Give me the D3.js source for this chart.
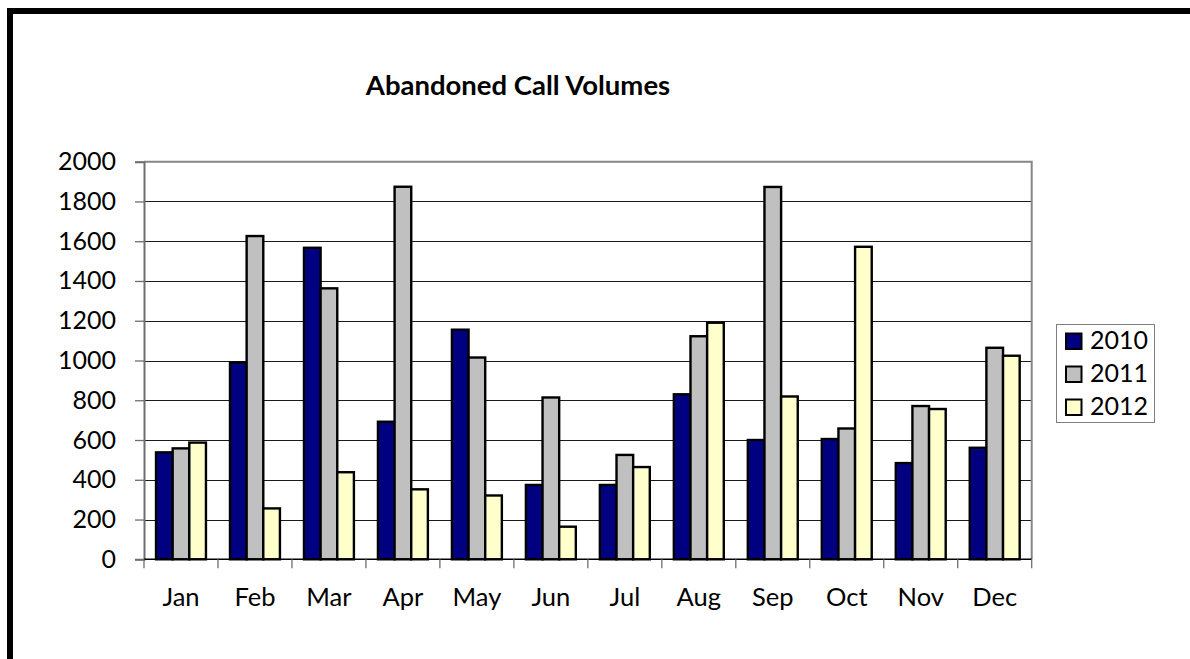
<!DOCTYPE html>
<html>
<head>
<meta charset="utf-8">
<script src="https://cdn.jsdelivr.net/npm/d3@7"></script>
<style>
  html, body { margin: 0; padding: 0; background: #fff; }
  svg { display: block; }
  text { font-family: Lato, "Open Sans", sans-serif; fill: #000; }
</style>
</head>
<body>
<svg id="chart" width="1190" height="659"></svg>
<script>
// Monthly abandoned call counts per year
const months = ["Jan", "Feb", "Mar", "Apr", "May", "Jun", "Jul", "Aug", "Sep", "Oct", "Nov", "Dec"];
const years = ["2010", "2011", "2012"];
const calls2010 = [538, 990, 1567, 692, 1155, 374, 374, 830, 600, 605, 484, 561];
const calls2011 = [558, 1626, 1363, 1874, 1015, 814, 525, 1122, 1873, 658, 771, 1064];
const calls2012 = [587, 256, 438, 352, 321, 164, 464, 1190, 819, 1572, 756, 1024];
const yTicks = [0, 200, 400, 600, 800, 1000, 1200, 1400, 1600, 1800, 2000];
const colors = ["#000080", "#C0C0C0", "#FFFFCC"];

const seriesValues = [calls2010, calls2011, calls2012];
const rows = months.map((m, i) => ({
  month: m,
  values: years.map((y, j) => ({ year: y, value: seriesValues[j][i], idx: j }))
}));

const svg = d3.select("#chart");

// Outer frame (thick black border)
svg.append("rect")
  .attr("x", 10).attr("y", 11)
  .attr("width", 1300).attr("height", 800)
  .attr("fill", "none").attr("stroke", "#000").attr("stroke-width", 6);

const plot = { left: 144, top: 161.7, right: 1031.7, bottom: 559.3 };

const y = d3.scaleLinear().domain([0, 2000]).range([plot.bottom, plot.top]);
const x0 = d3.scaleBand().domain(months).range([plot.left, plot.right]).padding(0);
const gap = x0.bandwidth() * 0.325;
const x1 = d3.scaleBand().domain(years).range([gap / 2, x0.bandwidth() - gap / 2]).padding(0);
const color = d3.scaleOrdinal().domain(years).range(colors);

// Gridlines
svg.append("g")
  .selectAll("line")
  .data(yTicks.filter(t => t > 0 && t < 2000))
  .join("line")
  .attr("x1", plot.left).attr("x2", plot.right)
  .attr("y1", d => Math.round(y(d)) + 0.5).attr("y2", d => Math.round(y(d)) + 0.5)
  .attr("stroke", "#1a1a1a").attr("stroke-width", 1);

// Plot area border (top and right)
svg.append("path")
  .attr("d", `M${plot.left},${plot.top}H${plot.right}V${plot.bottom}`)
  .attr("fill", "none").attr("stroke", "#868686").attr("stroke-width", 2);

// Bars
svg.append("g")
  .selectAll("g")
  .data(rows)
  .join("g")
  .attr("transform", d => `translate(${x0(d.month)},0)`)
  .selectAll("rect")
  .data(d => d.values)
  .join("rect")
  .attr("x", d => x1(d.year))
  .attr("y", d => y(d.value))
  .attr("width", x1.bandwidth())
  .attr("height", d => y(0) - y(d.value))
  .attr("fill", d => color(d.year))
  .attr("stroke", "#000").attr("stroke-width", 2.4);

// Y axis
const yAxis = svg.append("g")
  .attr("transform", `translate(${plot.left},0)`)
  .call(d3.axisLeft(y).tickValues(yTicks).tickSize(9).tickPadding(19).tickFormat(d3.format("d")));
yAxis.select(".domain").attr("stroke", "#6e6e6e").attr("stroke-width", 2);
yAxis.selectAll(".tick line").attr("stroke", "#6e6e6e").attr("stroke-width", 1.3);
yAxis.selectAll(".tick text").attr("font-size", 25).attr("font-family", "Lato, sans-serif").attr("fill", "#000");

// X axis
const xAxis = svg.append("g")
  .attr("transform", `translate(0,${plot.bottom})`)
  .call(d3.axisBottom(x0).tickSize(0).tickPadding(29));
xAxis.select(".domain").remove();
xAxis.selectAll(".tick text").attr("font-size", 25.5).attr("font-family", "Lato, sans-serif").attr("fill", "#000");

svg.append("line")
  .attr("x1", plot.left).attr("x2", plot.right)
  .attr("y1", plot.bottom).attr("y2", plot.bottom)
  .attr("stroke", "#000").attr("stroke-width", 1.5);

// Category separator ticks on the x axis
svg.append("g")
  .selectAll("line")
  .data(d3.range(months.length + 1))
  .join("line")
  .attr("x1", i => plot.left + i * x0.bandwidth())
  .attr("x2", i => plot.left + i * x0.bandwidth())
  .attr("y1", plot.bottom).attr("y2", plot.bottom + 9)
  .attr("stroke", "#6e6e6e").attr("stroke-width", 1.3);

// Title
svg.append("text")
  .attr("x", 518).attr("y", 95)
  .attr("text-anchor", "middle")
  .attr("font-size", 27.5)
  .attr("font-weight", "bold")
  .text("Abandoned Call Volumes");

// Legend
const legend = svg.append("g").attr("transform", "translate(1056,324)");
legend.append("rect")
  .attr("x", 0.5).attr("y", 0.5).attr("width", 98).attr("height", 98)
  .attr("fill", "#fff").attr("stroke", "#7f7f7f").attr("stroke-width", 1);
const items = legend.selectAll("g.item")
  .data(years)
  .join("g")
  .attr("class", "item")
  .attr("transform", (d, i) => `translate(0,${i * 33})`);
items.append("rect")
  .attr("x", 10).attr("y", 9.5)
  .attr("width", 15.5).attr("height", 15.5)
  .attr("fill", d => color(d))
  .attr("stroke", "#000").attr("stroke-width", 2);
items.append("text")
  .attr("x", 34).attr("y", 25)
  .attr("font-size", 25)
  .text(d => d);
</script>
</body>
</html>
